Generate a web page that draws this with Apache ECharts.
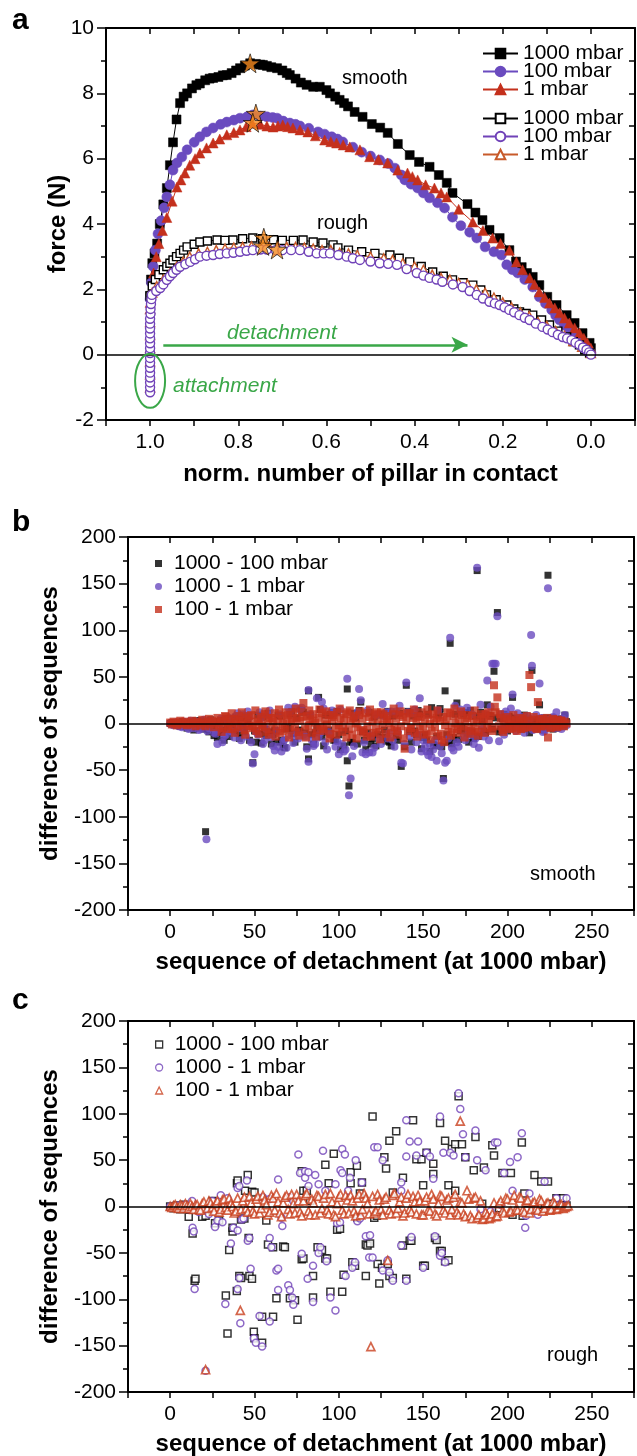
<!DOCTYPE html>
<html>
<head>
<meta charset="utf-8">
<script src="https://cdn.jsdelivr.net/npm/echarts@6/dist/echarts.min.js"></script>
<style>
  html, body { margin: 0; padding: 0; background: #fff; }
  #chart { width: 637px; height: 1456px; }
</style>
</head>
<body>
<div id="chart"></div>
<script>
// ---------- panel a : force vs. normalised number of pillars in contact ----------
const aSmooth1000 = [[1.000,1.8],[0.998,2.3],[0.995,2.8],[0.990,3.1],[0.984,3.4],[0.978,4.0],[0.970,4.6],[0.962,5.1],[0.955,5.8],[0.948,6.5],[0.940,7.2],[0.932,7.7],[0.924,7.9],[0.916,8.0],[0.905,8.15],[0.895,8.25],[0.887,8.3],[0.875,8.4],[0.865,8.45],[0.857,8.47],[0.845,8.5],[0.835,8.55],[0.826,8.56],[0.815,8.62],[0.805,8.7],[0.796,8.77],[0.785,8.85],[0.773,8.92],[0.760,8.9],[0.750,8.88],[0.744,8.87],[0.735,8.84],[0.725,8.8],[0.712,8.77],[0.700,8.7],[0.690,8.62],[0.683,8.56],[0.670,8.45],[0.658,8.33],[0.645,8.26],[0.630,8.2],[0.615,8.2],[0.600,8.1],[0.592,8.0],[0.580,7.9],[0.570,7.8],[0.560,7.7],[0.551,7.6],[0.536,7.43],[0.518,7.28],[0.497,7.06],[0.478,6.95],[0.461,6.79],[0.438,6.45],[0.411,6.11],[0.390,5.9],[0.366,5.75],[0.345,5.5],[0.327,5.26],[0.314,4.95],[0.280,4.61],[0.262,4.35],[0.246,4.12],[0.230,3.82],[0.207,3.57],[0.185,3.2],[0.170,2.85],[0.157,2.68],[0.145,2.5],[0.132,2.38],[0.117,2.13],[0.099,1.77],[0.078,1.52],[0.055,1.21],[0.037,0.97],[0.019,0.66],[0.003,0.36],[0.000,0.2]];
const aSmooth100 = [[1.000,1.7],[0.997,2.2],[0.993,2.7],[0.988,3.2],[0.982,3.7],[0.975,4.1],[0.968,4.5],[0.962,4.83],[0.955,5.2],[0.948,5.65],[0.939,5.87],[0.928,6.05],[0.916,6.27],[0.900,6.5],[0.887,6.67],[0.872,6.82],[0.857,6.94],[0.840,7.05],[0.826,7.12],[0.810,7.18],[0.796,7.24],[0.780,7.28],[0.767,7.34],[0.750,7.3],[0.735,7.28],[0.722,7.26],[0.712,7.24],[0.698,7.15],[0.683,7.09],[0.670,7.05],[0.660,7.0],[0.640,6.93],[0.619,6.82],[0.604,6.75],[0.588,6.67],[0.575,6.6],[0.563,6.51],[0.540,6.35],[0.520,6.2],[0.500,6.08],[0.479,5.96],[0.460,5.85],[0.445,5.71],[0.430,5.5],[0.422,5.35],[0.408,5.22],[0.393,5.1],[0.380,4.95],[0.366,4.8],[0.348,4.65],[0.332,4.49],[0.314,4.21],[0.295,3.95],[0.275,3.75],[0.259,3.57],[0.240,3.3],[0.220,3.15],[0.203,3.05],[0.191,2.75],[0.178,2.6],[0.166,2.5],[0.150,2.3],[0.132,2.07],[0.117,1.77],[0.103,1.57],[0.089,1.37],[0.080,1.2],[0.071,1.06],[0.060,0.9],[0.049,0.76],[0.037,0.6],[0.026,0.45],[0.016,0.3],[0.008,0.2],[0.000,0.05]];
const aSmooth1 = [[1.000,1.6],[0.996,2.0],[0.992,2.5],[0.986,3.0],[0.980,3.4],[0.972,3.8],[0.962,4.2],[0.950,4.7],[0.939,5.13],[0.930,5.35],[0.921,5.56],[0.910,5.8],[0.898,6.0],[0.887,6.17],[0.872,6.33],[0.857,6.48],[0.842,6.6],[0.826,6.73],[0.810,6.8],[0.796,6.88],[0.782,6.98],[0.769,7.09],[0.750,7.05],[0.735,7.0],[0.721,6.97],[0.710,7.0],[0.699,7.03],[0.688,6.98],[0.676,6.94],[0.660,6.88],[0.642,6.82],[0.625,6.7],[0.604,6.57],[0.590,6.52],[0.577,6.48],[0.562,6.42],[0.547,6.36],[0.524,6.27],[0.502,6.06],[0.482,5.97],[0.461,5.87],[0.438,5.65],[0.416,5.56],[0.405,5.45],[0.393,5.35],[0.375,5.2],[0.355,5.1],[0.340,4.95],[0.327,4.83],[0.300,4.45],[0.268,4.06],[0.245,3.8],[0.223,3.57],[0.205,3.4],[0.185,3.2],[0.169,2.84],[0.155,2.6],[0.139,2.35],[0.128,2.15],[0.117,1.92],[0.105,1.75],[0.094,1.58],[0.082,1.43],[0.071,1.28],[0.060,1.12],[0.049,0.97],[0.037,0.82],[0.026,0.66],[0.016,0.5],[0.008,0.36],[0.000,0.2]];
const aRough1000 = [[1.000,1.8],[0.995,2.1],[0.988,2.3],[0.980,2.45],[0.970,2.6],[0.962,2.7],[0.955,2.8],[0.948,2.9],[0.940,3.0],[0.932,3.1],[0.924,3.2],[0.916,3.3],[0.900,3.38],[0.887,3.45],[0.870,3.48],[0.848,3.51],[0.830,3.5],[0.812,3.51],[0.790,3.55],[0.767,3.57],[0.745,3.55],[0.720,3.52],[0.700,3.5],[0.675,3.5],[0.653,3.51],[0.630,3.45],[0.608,3.42],[0.585,3.36],[0.574,3.27],[0.550,3.2],[0.520,3.15],[0.490,3.1],[0.456,3.05],[0.435,2.95],[0.411,2.84],[0.385,2.7],[0.359,2.53],[0.335,2.4],[0.314,2.29],[0.290,2.2],[0.268,2.13],[0.250,1.98],[0.237,1.83],[0.215,1.68],[0.191,1.52],[0.175,1.4],[0.162,1.31],[0.147,1.26],[0.132,1.21],[0.112,1.06],[0.094,0.91],[0.075,0.72],[0.055,0.54],[0.040,0.4],[0.026,0.3],[0.014,0.15],[0.003,0.05]];
const aRough100 = [[1.000,-1.15],[1.000,-1.0],[1.000,-0.85],[1.000,-0.7],[1.000,-0.55],[1.000,-0.4],[1.000,-0.25],[1.000,-0.1],[1.000,0.05],[1.000,0.2],[1.000,0.35],[1.000,0.5],[1.000,0.65],[1.000,0.8],[1.000,0.95],[1.000,1.1],[0.999,1.25],[0.999,1.4],[0.998,1.55],[0.997,1.7],[0.996,1.83],[0.986,1.95],[0.977,2.04],[0.970,2.15],[0.962,2.29],[0.955,2.4],[0.948,2.5],[0.940,2.6],[0.932,2.69],[0.920,2.77],[0.909,2.84],[0.898,2.92],[0.887,3.0],[0.872,3.03],[0.857,3.05],[0.842,3.08],[0.826,3.1],[0.811,3.12],[0.796,3.15],[0.781,3.18],[0.767,3.2],[0.750,3.22],[0.735,3.22],[0.715,3.2],[0.700,3.2],[0.680,3.2],[0.660,3.2],[0.640,3.15],[0.622,3.1],[0.606,3.1],[0.592,3.1],[0.573,3.05],[0.554,3.0],[0.540,2.95],[0.524,2.9],[0.500,2.85],[0.479,2.8],[0.460,2.78],[0.440,2.75],[0.418,2.62],[0.395,2.5],[0.380,2.42],[0.366,2.35],[0.350,2.3],[0.337,2.23],[0.313,2.15],[0.291,2.07],[0.275,1.95],[0.259,1.83],[0.245,1.72],[0.230,1.62],[0.218,1.57],[0.207,1.52],[0.196,1.45],[0.185,1.37],[0.174,1.3],[0.162,1.21],[0.150,1.13],[0.139,1.06],[0.125,0.95],[0.110,0.85],[0.098,0.77],[0.087,0.69],[0.075,0.61],[0.064,0.54],[0.054,0.5],[0.044,0.45],[0.035,0.37],[0.026,0.3],[0.018,0.22],[0.010,0.15],[0.004,0.07],[0.000,0.0]];
const aRough1 = [[1.000,-1.0],[1.000,-0.6],[1.000,-0.2],[1.000,0.2],[1.000,0.6],[1.000,1.0],[1.000,1.4],[0.995,1.9],[0.985,2.1],[0.970,2.3],[0.955,2.5],[0.940,2.7],[0.925,2.85],[0.910,3.0],[0.890,3.1],[0.870,3.15],[0.850,3.2],[0.830,3.25],[0.810,3.28],[0.790,3.3],[0.770,3.32],[0.750,3.3],[0.730,3.3],[0.710,3.3],[0.690,3.3],[0.670,3.3],[0.650,3.28],[0.630,3.25],[0.610,3.2],[0.590,3.2],[0.570,3.12],[0.550,3.1],[0.530,3.05],[0.500,3.0],[0.470,2.95],[0.450,2.9],[0.427,2.8],[0.400,2.7],[0.380,2.6],[0.360,2.45],[0.340,2.35],[0.320,2.3],[0.300,2.2],[0.280,2.15],[0.260,2.0],[0.240,1.9],[0.220,1.75],[0.200,1.6],[0.180,1.45],[0.160,1.3],[0.140,1.18],[0.120,1.0],[0.100,0.88],[0.080,0.72],[0.060,0.58],[0.040,0.42],[0.020,0.24],[0.000,0.05]];
const aStars = [[0.773,8.92],[0.760,7.38],[0.767,7.1],[0.742,3.58],[0.744,3.33],[0.712,3.22]];
const aArrow = [[0.97,0.3],[0.28,0.3]];
const aEllipse = [[1.0,-0.8]];

// ---------- panel b : smooth, difference of sequences ----------
const bDiff1000_100 = [[0,0],[1,1],[3,1],[4,-1],[5,-2],[6,-3],[7,2],[8,1],[9,-3],[10,-5],[11,1],[12,2],[13,-4],[14,-7],[15,3],[16,-2],[17,-5],[18,3],[19,2],[20,-6],[21,-116],[22,-6],[23,-9],[24,4],[25,-4],[26,-13],[27,2],[28,-15],[29,-10],[30,3],[31,-7],[32,-18],[33,5],[34,-6],[35,-14],[36,5],[37,-5],[38,-8],[39,7],[40,-10],[41,-16],[42,6],[43,-4],[44,-9],[45,8],[46,4],[47,-18],[49,-42],[50,-8],[51,-20],[52,9],[53,-11],[54,-21],[55,7],[56,-6],[57,-13],[58,11],[59,-9],[60,-22],[61,-12],[62,-7],[63,-20],[64,9],[65,8],[66,-18],[67,-25],[68,-26],[69,-6],[70,-5],[71,10],[72,13],[73,-11],[74,-20],[75,6],[76,-7],[77,-8],[78,14],[79,12],[80,-10],[81,-25],[82,35],[82,-38],[83,9],[84,-12],[85,-22],[86,-10],[87,-5],[88,28],[89,15],[90,-14],[91,-24],[92,9],[93,-9],[94,-7],[95,10],[96,12],[97,-18],[98,-18],[99,13],[100,-12],[101,-28],[103,-24],[104,-8],[105,37],[105,-40],[106,-67],[107,-20],[108,-20],[109,11],[110,6],[111,-22],[112,14],[113,23],[114,-9],[115,-18],[116,-28],[117,-10],[118,12],[119,-22],[120,-16],[121,7],[122,-24],[123,-12],[124,9],[125,10],[126,-15],[127,-7],[128,-19],[129,13],[130,-20],[131,-24],[132,8],[133,10],[134,-14],[135,-18],[136,11],[137,-46],[139,-25],[140,41],[141,13],[142,-9],[143,-20],[144,8],[145,-8],[146,-12],[147,14],[148,10],[149,-27],[150,-15],[151,-12],[152,-18],[153,10],[154,-30],[155,17],[156,-22],[157,-24],[158,-14],[159,9],[160,16],[160,12],[161,-25],[162,-59],[163,35],[164,-12],[165,-20],[166,86],[167,-22],[168,-15],[169,10],[170,22],[171,-17],[172,-8],[173,-5],[174,10],[175,12],[176,-11],[177,-20],[178,14],[179,-9],[180,-16],[181,8],[182,164],[183,-14],[184,12],[185,4],[186,-8],[187,-10],[188,20],[189,9],[190,8],[191,-6],[192,56],[193,6],[194,119],[195,-9],[196,-6],[197,5],[198,10],[199,-5],[200,-8],[201,8],[202,-3],[203,28],[204,6],[205,5],[206,-4],[207,3],[208,-6],[209,-6],[210,9],[211,4],[212,-2],[213,-10],[214.5,57],[215,3],[216,-5],[217,-6],[218,4],[219,20],[220,-3],[221,-7],[222,6],[223,-4],[224,159],[225,3],[226,6],[227,-6],[228,4],[229,-5],[230,-2],[231,3],[232,5],[233,-3],[234,9],[235,2]];
const bDiff1000_1 = [[0,0],[1,-1],[2,-2],[3,1],[4,1],[5,-3],[6,-3],[7,-4],[8,2],[9,1],[10,-4],[11,-6],[12,3],[13,-3],[14,-5],[15,2],[16,2],[17,-7],[18,-6],[19,-2],[20,4],[21.5,-124],[22,-8],[23,-5],[24,3],[25,2],[26,-10],[27,-11],[28,-22],[29,-6],[30,5],[31,-20],[32,-14],[33,-12],[34,4],[35,6],[36,-8],[37,-9],[38,-15],[39,8],[40,11],[41,-5],[42,-18],[43,10],[44,-6],[45,-14],[46,13],[47,7],[48,-20],[49,-43],[50,-33],[51,-9],[52,-12],[53,12],[54,6],[55,-22],[56,-18],[57,-6],[58,9],[59,14],[60,-15],[61,-24],[62,-29],[63,-8],[64,-25],[65,10],[66,-30],[67,-19],[68,-17],[69,-26],[70,17],[71,12],[72,-13],[73,-21],[74,18],[75,-9],[76,-16],[77,15],[78,17],[79,-12],[80,-14],[81,-27],[82,36],[82,-41],[83,10],[84,-18],[85,-24],[86,-22],[87,27],[88,-15],[89,-10],[90,23],[91,16],[92,-20],[93,-28],[94,-9],[95,-12],[96,14],[97,11],[98,-25],[99,-19],[100,-33],[101,15],[102,-22],[103,-30],[104,-28],[105,48],[106,-77],[107,-59],[108,-35],[109,-24],[110,8],[111,12],[112,37],[113,25],[114,-31],[115,-20],[116,-33],[117,14],[118,-31],[119,-13],[120,-31],[121,-26],[122,9],[123,10],[124,-17],[125,-22],[126,21],[127,8],[128,12],[129,-16],[130,-10],[131,13],[132,-18],[133,-25],[134,13],[135,-9],[136,19],[137,-42],[138,-43],[139,-22],[140,44],[141,12],[142,-14],[143,-28],[144,11],[145,15],[146,-20],[147,-12],[148,27],[149,-30],[150,-18],[151,-25],[152,-30],[153,-34],[154,-22],[155,-36],[156,-28],[157,-18],[158,-40],[159,14],[160,-24],[161,-32],[162,-61],[163,-42],[164,-40],[165,-16],[166,92],[167,-26],[168,-29],[169,19],[170,-20],[171,-25],[172,15],[173,12],[174,-14],[175,-18],[176,17],[177,-8],[178,-12],[179,10],[180,-22],[181,-16],[182,167],[183,-26],[184,20],[185,-6],[186,-14],[187,10],[188,46],[189,-18],[190,18],[191,64],[192,64],[193,64],[194,115],[195,-19],[196,10],[197,-6],[198,-12],[199,13],[200,8],[201,-5],[202,16],[203,31],[204,-4],[205,-8],[206,11],[207,6],[208,-3],[209,7],[210,-10],[211,-2],[212,8],[213,5],[214,95],[214.5,62],[215,-7],[216,-6],[217,9],[218,-4],[219,43],[220,6],[221,-9],[222,-8],[223,4],[224,145],[225,-3],[226,5],[227,7],[228,-5],[229,12],[230,3],[231,-4],[232,-6],[233,5],[234,9],[235,-2]];
const bDiff100_1 = [[0,1],[1,-1],[2,2],[3,0],[4,-2],[5,1],[6,3],[7,-1],[8,0],[9,2],[10,-2],[11,1],[12,-1],[13,3],[14,0],[15,-3],[16,2],[17,1],[18,-2],[19,4],[20,0],[21,-3],[22,2],[23,5],[24,-1],[25,3],[26,-4],[27,1],[28,6],[29,-2],[30,3],[30.5,-9],[31,-5],[32,2],[32.5,8],[33,7],[34,-3],[34.5,-6],[35,4],[36,0],[36.5,11],[37,-6],[38,5],[38.5,-10],[39,2],[40,-4],[40.5,4],[41,8],[42,-2],[42.5,12],[43,3],[44,-7],[44.5,-12],[45,6],[46,0],[46.5,8],[47,-3],[48,9],[48.5,-3],[49,-5],[50,2],[50.5,14],[51,-8],[52,5],[52.5,-11],[53,-1],[54,7],[54.5,-2],[55,-4],[56,10],[56.5,13],[57,-9],[58,3],[58.5,-12],[59,6],[60,-6],[60.5,6],[61,2],[62,11],[62.5,-14],[63,-3],[64,5],[64.5,15],[65,-10],[66,8],[66.5,-8],[67,0],[68,-5],[68.5,12],[69,4],[70,9],[70.5,-15],[71,-7],[72,2],[72.5,5],[73,12],[74,-4],[74.5,16],[75,6],[76,-9],[76.5,-13],[77,3],[78,13],[78.5,7],[79,22],[80,-6],[80.5,-15],[81,8],[82,-2],[82.5,14],[83,5],[84,-10],[84.5,3],[85,10],[86,1],[86.5,-14],[87,-7],[88,6],[88.5,15],[89,-3],[90,11],[90.5,-6],[91,-8],[92,4],[92.5,13],[93,-1],[94,9],[94.5,-16],[95,-11],[96,3],[96.5,9],[97,7],[98,-5],[98.5,-12],[99,12],[100,-2],[100.5,16],[101,6],[102,-9],[102.5,-4],[103,4],[104,10],[104.5,-15],[105,12],[106,-6],[106.5,14],[107,3],[108,-12],[108.5,6],[109,8],[110,0],[110.5,-16],[111,-4],[112,9],[112.5,13],[113,-8],[114,5],[114.5,-7],[115,-10],[116,11],[116.5,-14],[117,-3],[118,7],[118.5,15],[119,-14],[120,2],[120.5,-10],[121,10],[122,-6],[122.5,12],[123,4],[124,-9],[124.5,-17],[125,12],[126,-2],[126.5,10],[127,6],[128,-11],[128.5,4],[129,8],[130,1],[130.5,-15],[131,-7],[132,10],[132.5,16],[133,-4],[134,5],[134.5,-8],[135,-12],[136,9],[136.5,13],[137,-3],[138,7],[138.5,-16],[139,-27],[140,3],[140.5,11],[141,-8],[142,11],[142.5,-5],[143,-5],[144,6],[144.5,15],[145,-10],[146,2],[146.5,-14],[147,8],[148,-6],[148.5,7],[149,12],[150,-3],[150.5,-12],[151,5],[152,-11],[152.5,15],[153,9],[154,0],[154.5,-17],[155,-8],[156,10],[156.5,4],[157,-4],[158,6],[158.5,14],[159,-13],[160,3],[160.5,-11],[161,-18],[162,7],[162.5,-20],[163,-2],[164,4],[164.5,12],[165,-9],[166,11],[166.5,-13],[167,-5],[168,8],[168.5,16],[169,0],[170,-10],[170.5,-6],[171,5],[172,-3],[172.5,13],[173,9],[174,-7],[174.5,-15],[175,2],[176,6],[176.5,9],[177,-4],[178,-11],[178.5,-8],[179,8],[180,1],[180.5,14],[181,-6],[182,4],[182.5,-13],[183,-9],[184,7],[184.5,10],[185,-2],[186,5],[186.5,-10],[187,10],[188,-5],[188.5,12],[189,3],[190,8],[190.5,-4],[191,-8],[192,41],[192.5,18],[193,12],[194,28],[195,-3],[195.5,10],[196,6],[197,-7],[197.5,-9],[198,2],[199,-4],[199.5,7],[200,5],[201,-2],[201.5,-6],[202,3],[203,-5],[203.5,9],[204,1],[205,4],[205.5,-8],[206,-3],[207,2],[207.5,6],[208,-6],[209,5],[209.5,-5],[210,0],[211,-4],[211.5,8],[212,3],[213,52],[213.5,-4],[214,39],[215,-2],[215.5,7],[216,4],[217,-5],[217.5,-6],[218,23],[219,2],[219.5,5],[220,-3],[221,5],[221.5,-3],[222,-1],[223,3],[223.5,6],[224,-15],[225,2],[225.5,-5],[226,-4],[227,5],[227.5,4],[228,0],[229,-3],[229.5,-4],[230,4],[231,-2],[231.5,3],[232,3],[233,-1],[233.5,-3],[234,2],[235,0]];

// ---------- panel c : rough, difference of sequences ----------
const cDiff1000_100 = [[0,0],[2,-2],[4,1],[6,-3],[8,2],[11,-11],[13.3,-29],[14.5,-80],[15,-78],[19,-11],[21,-10],[25,6],[26.6,-18],[29,-15],[33,-96],[34,-137],[35,-47],[37,-27],[37,-23],[39.5,-91],[39.6,25],[40,28],[41,-75],[42,-77],[42,-14],[44,-13],[44.4,17],[46,34],[46.5,-34],[47,-75],[48.5,-78],[48.6,16],[49.6,-135],[50,-142],[50,15],[54.5,-147],[54.5,-119],[57,-15],[58,-41],[61,-119],[61,-44],[63,-99],[67,-43],[68,-44],[71,-99],[74,-101],[75.5,-122],[78,-57],[78,38],[79,-56],[79,17],[81,17],[83,6],[84.7,-75],[84.7,-98],[87.4,-44],[90,-47],[92,-56],[92,45],[93,-56],[94,25],[95,-92],[97,57],[99,-25],[100.7,-24],[102,-92],[102.8,-73.5],[107,37],[107,25],[108,-60],[109.6,-64],[110.7,44],[111,-12],[112.5,14],[113.7,26],[116,-75],[116,-41],[117,-42],[118.5,-40],[120,97],[121,-12],[122.6,-10],[123,-62],[124,-83],[125.6,-66],[127,53],[128,41],[129,-62],[130,-75],[130,71],[132,-77],[132,15],[134,81],[138,-42],[138,31],[140,-78],[142,-37],[143,-37],[144,93],[146,51],[149,51],[150,-64],[150,23],[151,-64],[152,58],[156,46],[156,35],[157,-34],[158,-36],[160,-48],[160,90],[161,-48],[163,-59],[163,71],[165,-58],[165,23],[167,62],[169,67],[169,17],[171,119],[173,67],[175,53],[180,39],[181,75],[185,3],[186,42],[191,66],[192,55],[195,-2],[197,36],[202,36],[203,-9],[208.5,69],[209,-10],[210,14],[212,-4],[216,34],[218,2],[220,27],[224,27],[226,3],[229,9],[233,9],[235,1]];
const cDiff1000_1 = [[0,0],[3,-1],[5,1],[7,-2],[9,2],[11,-3],[13,6],[13.3,-23],[14,-27],[14.5,-89],[17,-6],[19,-4],[21,-177],[23,-8],[25,6],[26.6,-22],[28,-15],[30,12],[31,-17],[32.7,-105],[34,9],[36,-40],[37.5,-23],[40,-26],[40,-89],[40,20],[41,-77],[41,22],[41.6,-126],[42.4,-14],[43.5,-13],[45.5,28],[46,-37],[47,-34],[47.7,-67],[49.6,-142],[50.8,-147],[53,-118],[54.5,-151],[55,10],[59,-124],[59,-34],[59,8],[60,-44],[63,-69],[64,-90],[64,-67],[64,29],[66,-12],[66.5,-21],[70,-85],[71,-90],[71,10],[72.4,-98],[73,-106],[73,6],[76,56],[77,36],[78,-51],[80,38],[80,31],[81.5,-78],[82,37],[82,22],[84.7,-64],[84.7,-103],[86,34],[88,-50],[88,24],[89,-44],[90.6,60],[92,17],[92.7,-59],[95,-98],[98,-112],[98,24],[99,-18],[100.7,-17],[101,39],[102,62],[102,36],[103.6,56],[104,-75],[105.5,17],[106.6,31],[108,-66],[109.6,-60],[110,50],[111,-16],[112.5,-13],[113.7,26],[116,-32],[118,-55],[118.5,-31],[120,-55],[121,64],[123,64],[126,-69],[126,50],[129,-58],[130,-71],[132,-80],[137,-42],[137,26],[137,17],[140,-80],[140,54],[140,93],[142,70],[143,-33],[146,55],[147,70],[150,-66],[152,58],[154,54],[156,30],[157,-32],[160,-53],[160,97],[161,-50],[162,58],[163,-60],[166,58],[168,55],[171,122],[172,105],[173.6,78],[175,53],[181,82],[182,50],[184,-3],[187,39],[190,-5],[192.5,69],[194,69],[196,2],[198,36],[201.5,48],[203,17],[206,53],[208.5,79],[210.5,-23],[211,-10],[213,14],[215,-3],[218,-9],[222,27],[225,-4],[229,9],[232,1],[235,9]];
const cDiff100_1 = [[0,0],[1,-1],[2,1],[3,2],[4,-1],[5,-2],[6,2],[7,1],[8,-2],[9,3],[10,1],[11,-2],[12,3],[13,0],[14,-3],[15,2],[16,2],[17,-3],[18,-4],[19,3],[20,5],[21,-176],[22,-2],[23,6],[24,4],[25,-1],[26,-5],[27,3],[28,6],[29,-6],[30,-3],[31,7],[32,8],[33,-1],[34,-4],[35,9],[36,3],[37,0],[38,-7],[39,-5],[40,9],[41.6,-112],[42,-3],[43,6],[44,10],[45,-2],[46,-6],[47,11],[48,4],[49,-5],[50,-8],[51,8],[52,11],[53,-7],[54,-2],[55,12],[56,7],[57,2],[58,-9],[59,-6],[60,12],[61,9],[62,-4],[63,14],[64,5],[65,-7],[66,-11],[67,4],[68,10],[69,12],[70,-3],[71,-8],[72,13],[73,3],[74,-7],[75,13],[76,6],[77,-6],[78,-10],[79,6],[80,12],[81,14],[82,-5],[83,-9],[84,8],[85,4],[86,-9],[87,12],[88,11],[89,-7],[90,-2],[91,9],[92,13],[93,-4],[94,-8],[95,14],[96,5],[97,-9],[98,-11],[99,3],[100,10],[101,13],[102,-4],[103,-8],[104,12],[105,7],[106,-7],[107,12],[108,6],[109,-5],[110,-10],[111,9],[112,13],[113,-9],[114,-3],[115,14],[116,9],[117,3],[118,-8],[119,-151],[120,11],[121,-7],[122,-5],[123,13],[124,7],[125,-3],[126,-9],[127,8],[128,10],[129,-58],[130,-4],[131,-8],[132,12],[133,14],[134,-7],[135,-2],[136,5],[137,10],[138,-10],[139,-7],[140,9],[141,13],[142,-3],[143,-6],[144,11],[145,5],[146,-8],[147,12],[148,6],[149,-9],[150,-9],[151,6],[152,10],[153,-4],[154,-5],[155,13],[156,8],[157,-8],[158,-10],[159,3],[160,12],[161,11],[162,-4],[163,-7],[164,7],[165,9],[166,-9],[167,-3],[168,10],[169,13],[170,-6],[171,-9],[172,92],[172,5],[173,4],[174,-8],[175,-11],[176,17],[177,8],[178,-10],[179,-13],[180,9],[181,10],[182,-12],[183,-9],[184,6],[185,-14],[186,-13],[187,-6],[188,-9],[189,-13],[190,-12],[191,-8],[192,4],[193,-11],[194,-10],[195,3],[196,6],[197,-5],[198,-7],[199,9],[200,8],[201,-6],[202,-5],[203,7],[204,12],[205,-3],[206,-4],[207,10],[208,9],[209,-4],[210,-6],[211,6],[212,7],[213,-7],[214,-3],[215,4],[216,5],[217,-2],[218,-4],[219,8],[220,6],[221,-5],[222,-2],[223,3],[224,4],[225,-4],[226,-3],[227,5],[228,3],[229,-3],[230,-2],[231,2],[232,2],[233,-2],[234,-1],[235,0],[236,1]];

const FONT = '"Liberation Sans", Arial, Helvetica, sans-serif';
const BLACK = '#000000';
const PURPLE = '#6a4bbf';
const PURPLE_OPEN = '#7042b8';
const RED = '#c4301c';
const ORANGE = '#c85a2a';
const ORANGE_C = '#c9401e';
const GREEN = '#3aa748';
const STAR = 'path://M50 2 L61.8 37.6 L99 37.6 L69 59.6 L80.4 95 L50 73 L19.6 95 L31 59.6 L1 37.6 L38.2 37.6 Z';

const chart = echarts.init(document.getElementById('chart'));

// 坐标轴: 下/左 刻度朝外, 上/右 刻度朝内 (Origin 风格的边框)
function xAxisPair(grid, min, max, interval, fmt, name, nameGap, inverse) {
  const base = {
    gridIndex: grid, type: 'value', min: min, max: max, interval: interval, inverse: !!inverse,
    axisLine: { onZero: false, lineStyle: { color: BLACK, width: 2 } },
    splitLine: { show: false },
  };
  return [
    Object.assign({}, base, {
      position: 'bottom',
      axisTick: { inside: false, length: 6, lineStyle: { color: BLACK, width: 1.5 } },
      axisLabel: { color: BLACK, fontSize: 21, fontFamily: FONT, margin: 12, formatter: fmt },
      name: name, nameLocation: 'middle', nameGap: nameGap, nameMoveOverlap: false,
      nameTextStyle: { color: BLACK, fontSize: 24, fontWeight: 'bold', fontFamily: FONT },
    }),
    Object.assign({}, base, {
      position: 'top',
      axisTick: { inside: true, length: 6, lineStyle: { color: BLACK, width: 1.5 } },
      axisLabel: { show: false },
    }),
  ];
}

function yAxisPair(grid, min, max, interval, name, nameGap) {
  const base = {
    gridIndex: grid, type: 'value', min: min, max: max, interval: interval,
    axisLine: { onZero: false, lineStyle: { color: BLACK, width: 2 } },
    splitLine: { show: false },
  };
  return [
    Object.assign({}, base, {
      position: 'left',
      axisTick: { inside: false, length: 9, lineStyle: { color: BLACK, width: 1.5 } },
      minorTick: { show: true, splitNumber: 2, length: 5, lineStyle: { color: BLACK, width: 1.5 } },
      axisLabel: { color: BLACK, fontSize: 21, fontFamily: FONT, margin: 12 },
      name: name, nameLocation: 'middle', nameGap: nameGap, nameRotate: 90, nameMoveOverlap: false,
      nameTextStyle: { color: BLACK, fontSize: 24, fontWeight: 'bold', fontFamily: FONT },
    }),
    Object.assign({}, base, {
      position: 'right',
      axisTick: { inside: true, length: 6, lineStyle: { color: BLACK, width: 1.5 } },
      minorTick: { show: true, splitNumber: 2, length: 6, lineStyle: { color: BLACK, width: 1.5 } },
      axisLabel: { show: false },
    }),
  ];
}

const fmtA = v => {
  const k = Math.round(v * 10);
  return (k >= 0 && k <= 10 && k % 2 === 0) ? (k / 10).toFixed(1) : '';
};
const fmtSeq = v => {
  const k = Math.round(v);
  return (k >= 0 && k <= 250 && k % 50 === 0) ? String(k) : '';
};

const zeroLine = {
  silent: true, symbol: 'none', label: { show: false },
  lineStyle: { color: BLACK, width: 1.6, type: 'solid' },
  data: [{ yAxis: 0 }],
};

function curve(name, data, symbol, size, color, open) {
  return {
    name: name, type: 'line', data: data, xAxisIndex: 0, yAxisIndex: 0,
    symbol: symbol, symbolSize: size, showSymbol: true,
    lineStyle: { color: color, width: 1 },
    itemStyle: open
      ? { color: '#ffffff', borderColor: color, borderWidth: 1.4 }
      : { color: color, borderColor: color, borderWidth: 0.5 },
    emphasis: { disabled: true },
  };
}

function dots(name, data, grid, symbol, size, color, open) {
  return {
    name: name, type: 'scatter', data: data, xAxisIndex: grid * 2, yAxisIndex: grid * 2,
    symbol: symbol, symbolSize: size,
    itemStyle: open
      ? { color: '#ffffff', borderColor: color, borderWidth: 1.5 }
      : { color: color },
    emphasis: { disabled: true },
  };
}

const legendText = { color: BLACK, fontSize: 21, fontFamily: FONT };
const stripTag = n => n.split('|')[0];

const series = [
  Object.assign(curve('1000 mbar|s', aSmooth1000, 'rect', 9, BLACK, false), { markLine: zeroLine }),
  curve('100 mbar|s', aSmooth100, 'circle', 10, PURPLE, false),
  curve('1 mbar|s', aSmooth1, 'triangle', 10, RED, false),
  curve('1000 mbar|r', aRough1000, 'rect', 8, BLACK, true),
  curve('1 mbar|r', aRough1, 'triangle', 9, ORANGE, true),
  curve('100 mbar|r', aRough100, 'circle', 9, PURPLE_OPEN, true),
  {
    type: 'scatter', data: aStars, xAxisIndex: 0, yAxisIndex: 0,
    symbol: STAR, symbolSize: 19, z: 5,
    itemStyle: { color: '#f58a1f', borderColor: BLACK, borderWidth: 0.8 },
  },
  {
    type: 'custom', data: aEllipse, xAxisIndex: 0, yAxisIndex: 0, z: 6,
    renderItem: (params, api) => {
      const p = api.coord([api.value(0), api.value(1)]);
      return {
        type: 'ellipse',
        shape: { cx: p[0], cy: p[1], rx: 15, ry: 27 },
        style: { fill: 'none', stroke: GREEN, lineWidth: 2 },
      };
    },
    markLine: {
      silent: true, symbol: ['none', 'arrow'], symbolSize: [12, 16], label: { show: false },
      lineStyle: { color: GREEN, width: 2.5, type: 'solid' },
      data: [[{ coord: aArrow[0] }, { coord: aArrow[1] }]],
    },
  },
  // panel b
  Object.assign(dots('1000 - 100 mbar|b', bDiff1000_100, 1, 'rect', 7, BLACK, false), { markLine: zeroLine }),
  dots('1000 - 1 mbar|b', bDiff1000_1, 1, 'circle', 8, PURPLE, false),
  dots('100 - 1 mbar|b', bDiff100_1, 1, 'rect', 8, RED, false),
  // panel c
  Object.assign(dots('1000 - 100 mbar|c', cDiff1000_100, 2, 'rect', 7, BLACK, true), { markLine: zeroLine }),
  dots('1000 - 1 mbar|c', cDiff1000_1, 2, 'circle', 7, PURPLE_OPEN, true),
  Object.assign(dots('100 - 1 mbar|c', cDiff100_1, 2, 'triangle', 8, ORANGE_C, true),
    { itemStyle: { color: '#ffffff', borderColor: ORANGE_C, borderWidth: 1.7 } }),
];

const xa = xAxisPair(0, -0.1, 1.1, 0.1, fmtA, 'norm. number of pillar in contact', 42, true);
const xb = xAxisPair(1, -25, 275, 25, fmtSeq, 'sequence of detachment (at 1000 mbar)', 40, false);
const xc = xAxisPair(2, -25, 275, 25, fmtSeq, 'sequence of detachment (at 1000 mbar)', 40, false);
const ya = yAxisPair(0, -2, 10, 2, 'force (N)', 36);
const yb = yAxisPair(1, -200, 200, 50, 'difference of sequences', 66);
const yc = yAxisPair(2, -200, 200, 50, 'difference of sequences', 66);

const option = {
  animation: false,
  backgroundColor: '#ffffff',
  grid: [
    { left: 106, top: 28, width: 529, height: 392, outerBoundsMode: 'none' },
    { left: 128, top: 537, width: 506, height: 373, outerBoundsMode: 'none' },
    { left: 128, top: 1021, width: 506, height: 371, outerBoundsMode: 'none' },
  ],
  xAxis: xa.concat(xb, xc),
  yAxis: ya.concat(yb, yc),
  legend: [
    {
      data: ['1000 mbar|s', '100 mbar|s', '1 mbar|s'], formatter: stripTag,
      orient: 'vertical', left: 482, top: 43, padding: 0, itemWidth: 35, itemHeight: 12, itemGap: -3,
      selectedMode: false, textStyle: legendText,
    },
    {
      data: ['1000 mbar|r', '100 mbar|r', '1 mbar|r'], formatter: stripTag,
      orient: 'vertical', left: 482, top: 108, padding: 0, itemWidth: 35, itemHeight: 12, itemGap: -3,
      selectedMode: false, textStyle: legendText,
    },
    {
      data: ['1000 - 100 mbar|b', '1000 - 1 mbar|b', '100 - 1 mbar|b'], formatter: stripTag,
      orient: 'vertical', left: 155, top: 552, padding: 0, itemWidth: 7, itemHeight: 7, itemGap: 0,
      selectedMode: false, textStyle: Object.assign({ lineHeight: 23, padding: [0, 0, 0, 7] }, legendText),
    },
    {
      data: ['1000 - 100 mbar|c', '1000 - 1 mbar|c', '100 - 1 mbar|c'], formatter: stripTag,
      orient: 'vertical', left: 155, top: 1033, padding: 0, itemWidth: 7, itemHeight: 7, itemGap: 0,
      selectedMode: false, itemStyle: { borderWidth: 1.3 },
      textStyle: Object.assign({ lineHeight: 23, padding: [0, 0, 0, 7] }, legendText),
    },
  ],
  graphic: [
    { type: 'text', left: 12, top: 6, style: { text: 'a', font: 'bold 30px ' + FONT, fill: BLACK } },
    { type: 'text', left: 12, top: 508, style: { text: 'b', font: 'bold 30px ' + FONT, fill: BLACK } },
    { type: 'text', left: 12, top: 986, style: { text: 'c', font: 'bold 30px ' + FONT, fill: BLACK } },
    { type: 'text', left: 342, top: 68, style: { text: 'smooth', font: '20px ' + FONT, fill: BLACK } },
    { type: 'text', left: 317, top: 213, style: { text: 'rough', font: '20px ' + FONT, fill: BLACK } },
    { type: 'text', left: 227, top: 323, style: { text: 'detachment', font: 'italic 21px ' + FONT, fill: GREEN } },
    { type: 'text', left: 173, top: 376, style: { text: 'attachment', font: 'italic 21px ' + FONT, fill: GREEN } },
    { type: 'text', left: 530, top: 864, style: { text: 'smooth', font: '20px ' + FONT, fill: BLACK } },
    { type: 'text', left: 547, top: 1345, style: { text: 'rough', font: '20px ' + FONT, fill: BLACK } },
  ],
  series: series,
};

chart.setOption(option);
</script>
</body>
</html>
